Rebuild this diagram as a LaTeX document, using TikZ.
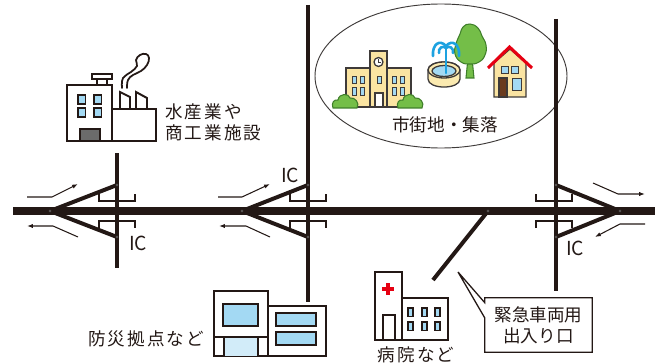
\documentclass[tikz,border=0pt]{standalone}
\usepackage{fontspec}
\usepackage{xcolor}
\usepackage{tikz}
\usetikzlibrary{arrows.meta,calc}
\newfontfamily\jpfont{Noto Sans CJK JP}
\newfontfamily\jpwide[LetterSpace=12]{Noto Sans CJK JP}
\definecolor{ink}{HTML}{231815}
\definecolor{rim}{HTML}{8C8C8C}
\definecolor{townink}{HTML}{3E3A39}
\definecolor{winblue}{HTML}{A3D9F3}
\definecolor{paleblue}{HTML}{D2ECF9}
\definecolor{doorgray}{HTML}{6B6B6B}
\definecolor{crossred}{HTML}{E60012}
\definecolor{cream}{HTML}{FAE4A2}
\definecolor{basin}{HTML}{FBEAB0}
\definecolor{leaf}{HTML}{74BE48}
\definecolor{leafdark}{HTML}{3F7F2A}
\definecolor{spray}{HTML}{1DA2E0}
\definecolor{doorbrown}{HTML}{6A3B1E}
\newcommand\jplbl{\jpfont\fontsize{15}{18}\selectfont}
\newcommand\jpwidelbl{\jpwide\fontsize{15}{18}\selectfont}
\tikzset{
  highway/.style={line width=6.8pt, draw=ink},
  highwayrim/.style={line width=7.6pt, draw=rim},
  road/.style={line width=4.2pt, draw=ink},
  ramp/.style={line width=3.4pt, draw=ink},
  bridge/.style={line width=1.6pt, draw=ink},
  joint/.style={draw=rim!80!black, line width=0.35pt},
  flowarrow/.style={-{Latex[length=5pt,width=3.6pt]}, line width=0.9pt, draw=ink},
  bldg/.style={draw=ink, line width=1.7pt, fill=white, line join=miter},
  winbox/.style={draw=ink, line width=1.1pt, fill=winblue},
  townbldg/.style={draw=townink, line width=1.1pt, fill=cream},
  townwin/.style={draw=townink, line width=0.8pt, fill=winblue},
  bush/.style={draw=leafdark, line width=0.9pt, fill=leaf},
  roof/.style={draw=crossred, line width=2.6pt, line join=miter, line cap=butt},
  smoke/.style={draw=ink, line width=1.5pt, line cap=round},
  sprayline/.style={draw=spray, line width=2.2pt, line cap=round},
  townring/.style={draw=townink, line width=0.8pt},
  lbl/.style={font=\jplbl, text=ink, inner sep=0pt},
  iclbl/.style={font=\jpfont\fontsize{16.5}{18}\selectfont, text=ink, inner sep=0pt},
  calloutbox/.style={font=\jplbl, text=ink, align=center, inner sep=0pt,
    minimum width=32.1mm, minimum height=16.2mm},
  calloutline/.style={draw=ink, line width=1.1pt, fill=white, line join=miter},
}

\begin{document}
\begin{tikzpicture}[x=0.3mm, y=-0.3mm]
  \useasboundingbox (0,0) rectangle (666,363);

  % --- town area ---
  \draw[townring] (441,76) ellipse [x radius=126, y radius=72];

  % school
  \draw[townbldg] (346,68) rectangle (370,107);
  \draw[townbldg] (387,68) rectangle (411,107);
  \draw[townbldg] (370,51) rectangle (387,107);
  \draw[townbldg, fill=white] (378.5,62) circle (4.5);
  \draw[townink, line width=0.6pt] (378.5,59) -- (378.5,62) -- (381,62);
  \draw[townbldg, fill=white] (375,93) rectangle (383,107);
  \foreach \wx in {352,360,377,392,400}
    \draw[townwin] (\wx,76) rectangle ++(4,7);
  \foreach \wx in {352,360,392,400}
    \draw[townwin] (\wx,87) rectangle ++(4,8);
  \foreach \bx in {333,398}
    \draw[bush, shift={(\bx,0)}] (0,108) .. controls (-2,103) and (1,99) .. (5,100)
      .. controls (6,93) and (16,93) .. (17,98) .. controls (22,97) and (27,103) .. (24,108) -- cycle;

  % fountain and tree
  \draw[draw=leafdark, line width=0.9pt, fill=leaf] (466,78) -- (468,58) -- (472,58) -- (474,78) -- cycle;
  \draw[bush] plot[smooth cycle, tension=0.8] coordinates
    {(470,24) (478,28) (482,36) (486,45) (485,55) (479,62) (470,64) (461,62) (455,54) (456,44) (460,34) (463,27)};
  \draw[townbldg, fill=basin] (428,70) -- (428,79) .. controls (428,89.7) and (460,89.7) .. (460,79)
    -- (460,70) .. controls (460,59.3) and (428,59.3) .. (428,70) -- cycle;
  \draw[townbldg, fill=basin] (444,70) ellipse [x radius=16, y radius=8];
  \draw[townbldg, fill=winblue] (444,71) ellipse [x radius=12, y radius=5.5];
  \draw[sprayline] (446,73) -- (446,45);
  \draw[sprayline] (446,46) .. controls (440,39) and (432,44) .. (433,56);
  \draw[sprayline] (446,46) .. controls (452,39) and (460,44) .. (459,56);
  \draw[sprayline] (446,48) .. controls (443,45) and (438,48) .. (439,53);
  \draw[sprayline] (446,48) .. controls (449,45) and (454,48) .. (453,53);

  % house
  \draw[townbldg] (494,97) -- (494,63) -- (510,49) -- (526,63) -- (526,97) -- cycle;
  \draw[roof] (488,68) -- (509.5,47) -- (532,68);
  \draw[townwin] (501,66) rectangle (508,73);
  \draw[townwin] (511,66) rectangle (518,73);
  \draw[townbldg, fill=doorbrown] (499,78) rectangle (507,97);
  \draw[townwin] (512,78) rectangle (521,90);

  \node[lbl] (townlbl) at (445,125) {市街地・集落};

  % --- roads ---
  \coordinate (hwW) at (13,211);
  \coordinate (hwE) at (655,211);
  \coordinate (roadA-n) at (117,153);
  \coordinate (roadA-s) at (117,268);
  \coordinate (roadB-n) at (308,5);
  \coordinate (roadB-s) at (308,302);
  \coordinate (roadC-n) at (556,19);
  \coordinate (roadC-s) at (556,291);
  \coordinate (icA-m) at (50,211);
  \coordinate (icA-u) at (117,185);
  \coordinate (icA-l) at (117,237);
  \coordinate (icB-m) at (242,211);
  \coordinate (icB-u) at (308,185);
  \coordinate (icB-l) at (308,237);
  \coordinate (icC-m) at (620,211);
  \coordinate (icC-u) at (556,185);
  \coordinate (icC-l) at (556,237);
  \coordinate (gate-top) at (488,211);
  \coordinate (gate-end) at (433,280);
  \coordinate (gate-tip) at (458,272);

  % overpass brackets
  \foreach \vx in {117,308,554} {
    \draw[bridge] (\vx-18,194) -- (\vx-18,201) -- (\vx+18,201) -- (\vx+18,194);
    \draw[bridge] (\vx-18,228) -- (\vx-18,221) -- (\vx+18,221) -- (\vx+18,228);
  }

  \draw[road] (roadA-n) -- (roadA-s);
  \draw[road] (roadB-n) -- (roadB-s);
  \draw[road] (roadC-n) -- (roadC-s);

  \draw[ramp] (icA-u) -- (icA-m) -- (icA-l);
  \draw[ramp] (icB-u) -- (icB-m) -- (icB-l);
  \draw[ramp] (icC-u) -- (icC-m) -- (icC-l);
  \draw[ramp] (gate-top) -- (gate-end);

  \draw[highwayrim] (hwW) -- (hwE);
  \draw[highway] (hwW) -- (hwE);

  \foreach \p in {icA-m,icA-u,icA-l,icB-m,icB-u,icB-l,icC-m,icC-u,icC-l,gate-top}
    \draw[joint] (\p) circle (1.2);

  % traffic flow
  \draw[flowarrow] ([shift={(-23,-14)}]icA-m) -- ++(25,0) -- ++(26,-13);
  \draw[flowarrow] ([shift={(28,26)}]icA-m) -- ++(-25,-11) -- ++(-26,0);
  \draw[flowarrow] ([shift={(-24,-14)}]icB-m) -- ++(24,0) -- ++(28,-13);
  \draw[flowarrow] ([shift={(28,26)}]icB-m) -- ++(-24,-11) -- ++(-27,0);
  \draw[flowarrow] ([shift={(-27,-28)}]icC-m) -- ++(25,11) -- ++(27,0);
  \draw[flowarrow] ([shift={(25,13)}]icC-m) -- ++(-25,0) -- ++(-25,13);

  \node[iclbl] (icA) at (138,243) {IC};
  \node[iclbl] (icB) at (290,175) {IC};
  \node[iclbl] (icC) at (575,248) {IC};

  % --- factory ---
  \draw[bldg] (97,79) rectangle (107,85);
  \draw[bldg] (92,74) rectangle (112,79);
  \draw[bldg] (120,109) -- (120,92) -- (130,97) -- (130,109);
  \draw[bldg] (136,109) -- (136,92) -- (147,98) -- (147,109);
  \draw[bldg] (112,109) rectangle (156,141);
  \draw[bldg] (67,85) rectangle (112,141);
  \foreach \wx in {78,94}
    \foreach \wy in {95,108}
      \draw[winbox] (\wx,\wy) rectangle ++(7.5,9);
  \draw[bldg, fill=doorgray] (80,129) rectangle (100,141);
  \draw[smoke] plot[smooth, tension=0.7] coordinates
    {(122,88) (123,78) (131,72) (137,66) (136,60) (140,55) (146,54) (149,58) (147,65) (141,71) (133,75) (128,80) (127,88)};

  \node[lbl, font=\jpwidelbl, anchor=west, align=left] (factorylbl) at (165,122) {水産業や\\商工業施設};

  % --- disaster base ---
  \draw[bldg] (214,291) rectangle (268,356);
  \fill[paleblue] (224,337) rectangle (258,356);
  \draw[bldg, fill=none] (214,337) -- (268,337) (224,337) -- (224,356) (258,337) -- (258,356);
  \draw[winbox] (223,304) rectangle (258,326);
  \draw[bldg] (268,306) rectangle (326,356);
  \draw[winbox] (276,313) rectangle (316,326);
  \draw[winbox] (276,332) rectangle (316,345);

  \node[lbl, font=\jpwidelbl] (baselbl) at (146,339) {防災拠点など};

  % --- hospital ---
  \draw[bldg] (375,272) rectangle (402,340);
  \draw[bldg] (402,298) rectangle (448,340);
  \fill[crossred] (386,283) rectangle (390,295);
  \fill[crossred] (382,287) rectangle (394,291);
  \draw[bldg] (383,315) rectangle (395,340);
  \foreach \wx in {408,422,435}
    \foreach \wy in {308,322}
      \draw[winbox] (\wx,\wy) rectangle ++(5,8.5);

  \node[lbl, font=\jpwidelbl] (hosplbl) at (416,355) {病院など};

  % --- emergency gate callout ---
  \node[calloutbox] (callout) at (538.5,325) {緊急車両用\\出入り口};
  \draw[calloutline] (callout.north west) -- (callout.north east) -- (callout.south east)
    -- (callout.south west) -- ($(callout.north west)!0.37!(callout.south west)$)
    -- (gate-tip) -- ($(callout.north west)!0.09!(callout.south west)$) -- cycle;
  \node[calloutbox] at (callout) {緊急車両用\\出入り口};
\end{tikzpicture}
\end{document}
